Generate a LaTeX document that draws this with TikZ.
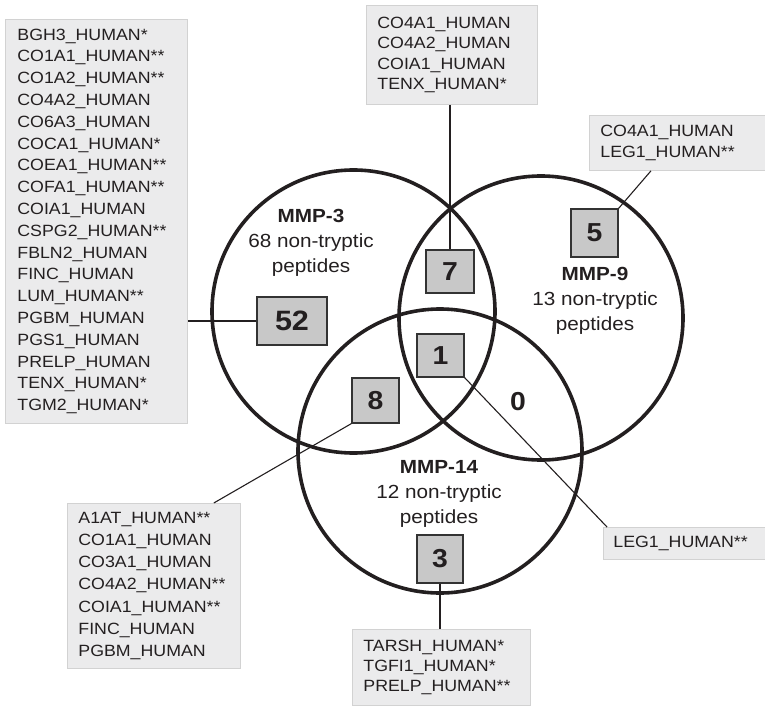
\documentclass[tikz,border=0pt]{standalone}
\usepackage{fontspec}
\setmainfont{Liberation Sans}[FakeStretch=1.09]
\usetikzlibrary{calc}
\definecolor{listfill}{HTML}{EBEBEC}
\definecolor{listdraw}{HTML}{D2D2D2}
\definecolor{numfill}{HTML}{C8C8C8}
\definecolor{ink}{HTML}{231F20}
\begin{document}
\begin{tikzpicture}[x=1pt,y=-1pt,
  circ/.style={line width=3.6pt, draw=ink},
  listbox/.style={draw=listdraw, fill=listfill, line width=0.8pt, anchor=north west,
    align=left, inner xsep=11pt, inner ysep=0pt, text=ink},
  numbox/.style={draw=black!80, fill=numfill, line width=1.1pt, minimum width=47pt,
    minimum height=45pt, inner sep=0pt, text=ink, font=\bfseries\fontsize{26}{26}\selectfont},
  setlabel/.style={align=center, text=ink, font=\fontsize{19}{25}\selectfont},
  conn/.style={line width=1.1pt, draw=ink}
]
\useasboundingbox (0,0) rectangle (765,706);

% circles
\draw[circ] (353.5,311.5) circle[radius=141.5];
\draw[circ] (541,318) circle[radius=142];
\draw[circ] (440,451) circle[radius=142];

% set labels
\node[setlabel] (lab3) at (311,243) {\textbf{MMP-3}\\68 non-tryptic\\peptides};
\node[setlabel] (lab9) at (595,301) {\textbf{MMP-9}\\13 non-tryptic\\peptides};
\node[setlabel] (lab14) at (439,494) {\textbf{MMP-14}\\12 non-tryptic\\peptides};

% number boxes
\node[numbox, minimum width=70pt, minimum height=48pt, font=\bfseries\fontsize{28}{28}\selectfont] (n52) at (292,321) {52};
\node[numbox, minimum width=48pt, minimum height=43pt] (n7) at (450,271.5) {7};
\node[numbox, minimum height=43pt] (n1) at (440.5,355.5) {1};
\node[numbox] (n8) at (375.5,400.5) {8};
\node[numbox, minimum width=46pt, minimum height=48pt] (n3) at (440,559) {3};
\node[numbox, minimum height=48pt] (n5) at (594.5,233) {5};
\node[text=ink, font=\bfseries\fontsize{26}{26}\selectfont, inner sep=0pt] (n0) at (518,402) {0};

% list boxes
\node[listbox, inner xsep=12pt, text width=158pt, minimum height=404pt,
  font=\fontsize{16.3}{21.8}\selectfont] (L) at (5,19)
 {BGH3\_HUMAN*\\CO1A1\_HUMAN**\\CO1A2\_HUMAN**\\CO4A2\_HUMAN\\CO6A3\_HUMAN\\COCA1\_HUMAN*\\COEA1\_HUMAN**\\COFA1\_HUMAN**\\COIA1\_HUMAN\\CSPG2\_HUMAN**\\FBLN2\_HUMAN\\FINC\_HUMAN\\LUM\_HUMAN**\\PGBM\_HUMAN\\PGS1\_HUMAN\\PRELP\_HUMAN\\TENX\_HUMAN*\\TGM2\_HUMAN*};
\node[listbox, text width=149pt, minimum height=99pt,
  font=\fontsize{16.3}{20.6}\selectfont] (T) at (366,5)
 {CO4A1\_HUMAN\\CO4A2\_HUMAN\\COIA1\_HUMAN\\TENX\_HUMAN*};
\node[listbox, text width=154pt, minimum height=55pt,
  font=\fontsize{16.3}{21.6}\selectfont] (R) at (589,115)
 {CO4A1\_HUMAN\\LEG1\_HUMAN**};
\node[listbox, inner xsep=10pt, text width=142pt, minimum height=32pt,
  font=\fontsize{16.3}{21.6}\selectfont] (LEG) at (603,527)
 {LEG1\_HUMAN**};
\node[listbox, text width=156pt, minimum height=76pt,
  font=\fontsize{16.3}{20.3}\selectfont] (B) at (352,629)
 {TARSH\_HUMAN*\\TGFI1\_HUMAN*\\PRELP\_HUMAN**};
\node[listbox, text width=151pt, minimum height=165pt,
  font=\fontsize{16.3}{22.2}\selectfont] (BL) at (67,503)
 {A1AT\_HUMAN**\\CO1A1\_HUMAN\\CO3A1\_HUMAN\\CO4A2\_HUMAN**\\COIA1\_HUMAN**\\FINC\_HUMAN\\PGBM\_HUMAN};

% connectors
\draw[conn] (n52.west -| L.east) -- (n52.west);
\draw[conn] (n7.north |- T.south) -- (n7.north);
\draw[conn] ($(R.south west)+(62,0)$) -- (n5.north east);
\draw[conn] (n1.south east) -- ($(LEG.north west)+(4,0)$);
\draw[conn] (n3.south) -- (n3.south |- B.north);
\draw[conn] (n8.south west) -- ($(BL.north east)+(-27,0)$);
\end{tikzpicture}
\end{document}
